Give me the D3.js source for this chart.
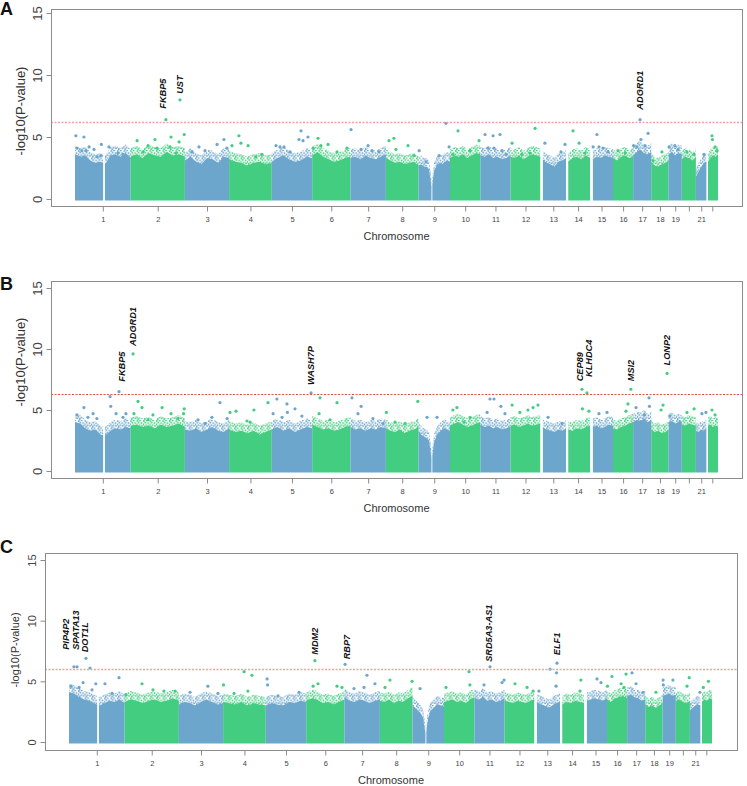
<!DOCTYPE html>
<html><head><meta charset="utf-8">
<script src="https://cdn.jsdelivr.net/npm/d3@7"></script>
<style>
body{margin:0;background:#fff}
svg{display:block}
text{font-family:"Liberation Sans",Arial,Helvetica,sans-serif}
</style>
</head><body>
<svg id="chart" width="747" height="786"></svg>
<script>
// ---------------- DATA ----------------
const chromosomes = d3.range(1, 23);
const chrLengthMb = [249,243,198,191,181,171,159,146,141,136,135,134,115,107,103,90,81,78,59,63,48,51];
const chrDataStartMb = [0,0,0,0,0,0,0,0,0,0,0,0,10,9,12,0,0,0,0,0,0,6];
const chrGapsMb = [[1,126,134],[9,58,62]];
const tickLabels = ["1","2","3","4","5","6","7","8","9","10","11","12","13","14","15","16","17","18","19","","21",""];
const yTicks = [0,5,10,15];

// upper edge of the dense band of SNPs, sampled evenly along each chromosome
const envelopeA = [
 [3.6,3.4,3.5,3.1,2.9,3.0,2.8,3.5,3.6,3.4,3.7,3.3],
 [3.4,3.6,3.3,3.7,3.5,3.4,3.8,3.5,3.6,3.4],
 [3.1,3.4,3.0,2.8,3.3,3.2,2.9,3.4,3.3],
 [3.2,3.0,2.9,2.7,2.9,3.0,2.8,2.9],
 [3.0,3.3,3.5,3.2,3.0,3.1,3.4,3.3],
 [3.5,3.8,3.4,3.2,3.0,3.1,3.3,3.4],
 [3.3,3.4,3.2,3.5,3.3,3.2,3.4,3.6],
 [3.3,3.1,2.9,3.0,2.8,2.9,3.0,2.7],
 [2.7,2.8,2.6,2.6,2.4,0.9,2.3,2.7,2.9,2.8,3.0,3.1,3.0],
 [3.3,3.5,3.4,3.6,3.3,3.5,3.7,3.6],
 [3.5,3.4,3.6,3.3,3.4,3.2,3.3,3.5],
 [3.4,3.3,3.5,3.2,3.4,3.6,3.5,3.4],
 [3.2,2.9,2.8,2.6,3.0,3.1,3.3],
 [3.0,3.3,3.4,3.2,3.5,3.3],
 [3.2,3.4,3.3,3.5,3.4,3.3],
 [3.3,3.1,3.4,3.5,3.3,3.4],
 [3.5,3.8,4.0,3.7,3.6,3.8],
 [3.0,2.7,2.6,2.8,2.9,3.1],
 [3.6,3.8,3.5,3.7,3.6],
 [3.2,3.4,3.3,3.1,3.4],
 [1.8,2.2,2.6,2.9,3.0],
 [3.0,3.3,3.5,3.4,3.6]
];
const envelopeB = [
 [4.0,3.9,3.5,3.3,3.4,3.0,2.9,3.3,3.5,3.4,3.6,3.5],
 [3.7,3.8,3.6,3.7,3.5,3.8,3.6,3.7,3.9,3.6],
 [3.4,3.3,3.5,3.2,3.4,3.6,3.3,3.2,3.5],
 [3.4,3.2,3.3,3.1,3.3,3.0,3.2,3.4],
 [3.4,3.6,3.3,3.5,3.2,3.4,3.6,3.5],
 [3.8,3.6,3.4,3.5,3.3,3.4,3.6,3.7],
 [3.6,3.4,3.5,3.3,3.5,3.4,3.6,3.5],
 [3.5,3.3,3.2,3.4,3.1,3.3,3.4,3.6],
 [3.3,3.0,2.8,2.7,2.5,1.0,2.4,2.9,3.2,3.4,3.5,3.4,3.3],
 [3.7,3.9,4.0,3.8,3.6,3.7,3.9,4.0],
 [3.8,3.6,3.7,3.5,3.6,3.4,3.5,3.6],
 [3.7,3.8,3.6,3.7,3.9,3.7,3.8,3.9],
 [3.6,3.4,3.3,3.2,3.4,3.3,3.5],
 [3.4,3.3,3.5,3.4,3.6,3.7],
 [3.6,3.7,3.5,3.6,3.8,3.7],
 [3.5,3.4,3.6,3.7,3.9,4.0],
 [4.0,4.2,4.1,4.3,4.0,4.2],
 [3.4,3.2,3.3,3.1,3.2,3.4],
 [4.0,4.1,3.9,4.0,3.9],
 [3.8,3.7,3.9,3.8,3.7],
 [3.3,3.2,3.4,3.3,3.5],
 [3.7,3.8,3.6,3.7,3.6]
];
const envelopeC = [
 [4.1,4.0,3.7,3.5,3.4,3.2,3.0,3.2,3.4,3.3,3.5,3.2],
 [3.3,3.5,3.4,3.2,3.4,3.5,3.3,3.4,3.6,3.4],
 [3.1,3.3,3.2,3.0,3.3,3.5,3.3,3.1,3.2],
 [3.3,3.2,3.1,3.3,3.0,3.2,3.1,3.0],
 [3.0,3.2,3.1,3.0,3.3,3.2,3.4,3.3],
 [3.4,3.6,3.5,3.2,3.3,3.1,3.3,3.5],
 [3.7,3.4,3.3,3.5,3.4,3.2,3.4,3.5],
 [3.4,3.3,3.5,3.2,3.4,3.3,3.6,3.8],
 [3.0,2.8,2.6,2.4,2.0,0.6,2.0,2.6,2.8,3.0,3.1,3.0,2.9],
 [3.3,3.4,3.5,3.3,3.4,3.2,3.5,3.7],
 [3.6,3.5,3.7,3.4,3.5,3.3,3.4,3.6],
 [3.4,3.3,3.2,3.4,3.3,3.2,3.4,3.5],
 [3.3,3.1,3.0,2.8,3.0,3.2,3.3],
 [3.1,3.3,3.2,3.4,3.3,3.2],
 [3.4,3.5,3.6,3.5,3.4,3.6],
 [3.5,3.3,3.6,3.7,3.8,3.6],
 [3.8,3.9,3.7,3.6,3.4,3.5],
 [3.1,2.9,3.0,2.8,3.0,3.2],
 [3.8,3.9,4.0,3.8,3.9],
 [3.4,3.5,3.3,3.2,3.4],
 [2.6,2.8,3.0,3.1,3.0],
 [3.3,3.5,3.4,3.6,3.5]
];

// individual SNPs above the band: [chromosome, position (Mb), -log10 P]
const pointsA = [
 [1,4,5.1],[1,40,5.0],[1,118,4.4],[1,152,4.2],[1,9,4.1],[1,31,3.9],[1,49,3.9],[1,63,4.2],[1,98,3.4],[1,116,3.5],[1,192,3.7],[1,215,3.6],[1,85,4.0],
 [2,29,4.7],[2,55,3.8],[2,78,4.3],[2,109,4.8],[2,118,4.1],[2,176,4.2],[2,181,5.0],[2,203,3.7],[2,217,4.6],[2,240,5.2],
 [3,32,3.8],[3,63,4.2],[3,90,3.9],[3,144,4.4],[3,175,4.8],[3,188,4.1],
 [4,13,4.3],[4,44,5.1],[4,53,4.5],[4,85,4.3],[4,120,3.4],[4,147,3.6],
 [5,19,4.3],[5,37,4.2],[5,55,4.2],[5,82,3.8],[5,122,4.8],[5,131,5.5],[5,140,4.7],[5,162,5.0],
 [6,4,4.1],[6,26,4.9],[6,39,4.3],[6,71,4.4],[6,111,3.8],[6,156,4.1],
 [7,3,5.6],[7,48,4.0],[7,79,4.3],[7,97,3.9],[7,128,3.8],
 [8,14,4.7],[8,36,4.9],[8,45,4.0],[8,99,4.3],[8,126,3.5],
 [9,3,3.9],[9,34,3.0],[9,92,3.5],[9,123,6.1],[9,137,4.2],
 [10,13,3.6],[10,36,5.5],[10,90,3.9],[10,130,4.7],
 [11,21,5.2],[11,34,4.1],[11,57,5.1],[11,61,4.1],[11,88,5.2],[11,97,3.9],[11,115,3.6],
 [12,7,4.5],[12,51,3.6],[12,87,3.7],[12,110,5.7],
 [13,20,4.5],[13,92,3.8],[13,110,4.4],
 [14,31,5.5],[14,58,4.5],[14,84,3.7],
 [15,14,4.2],[15,31,5.2],[15,40,4.2],[15,58,4.1],[15,81,3.8],
 [16,22,3.9],[16,54,3.7],
 [17,2,4.3],[17,17,4.2],[17,35,4.8],[17,53,4.3],[17,67,5.3],
 [18,8,3.1],[18,48,3.8],
 [19,2,4.2],[19,28,4.3],[19,42,4.0],
 [20,23,3.8],[20,54,3.6],
 [21,36,3.6],
 [22,24,5.1],[22,26,4.8],[22,38,4.2],[22,47,3.9]
];
const pointsB = [
 [1,9,4.6],[1,40,5.2],[1,58,4.4],[1,81,4.7],[1,98,4.3],[1,157,6.1],[1,160,5.3],[1,184,4.7],[1,215,4.4],[1,228,4.7],
 [2,15,4.7],[2,33,5.7],[2,51,5.2],[2,78,4.2],[2,100,4.6],[2,141,5.2],[2,181,4.7],[2,212,4.3],[2,240,5.1],[2,237,4.7],
 [3,59,4.2],[3,90,3.9],[3,121,4.4],[3,157,5.6],[3,189,4.3],
 [4,4,4.8],[4,31,4.9],[4,80,4.1],[4,94,4.0],[4,111,5.0],[4,174,5.6],
 [5,6,4.7],[5,23,5.9],[5,46,4.4],[5,68,5.5],[5,70,4.8],[5,104,5.1],[5,135,4.5],
 [6,35,6.0],[6,31,4.7],[6,80,4.2],[6,111,5.6],
 [7,7,6.0],[7,34,4.7],[7,48,5.3],[7,101,4.3],[7,146,3.9],
 [8,2,4.8],[8,41,4.0],[8,86,3.9],[8,143,5.7],
 [9,38,4.4],[9,83,4.4],
 [10,13,5.0],[10,31,5.2],[10,63,4.0],[10,90,4.4],
 [11,30,4.8],[11,43,5.9],[11,61,5.9],[11,92,5.3],[11,110,4.7],
 [12,7,5.4],[12,42,4.8],[12,78,5.0],[12,101,5.2],[12,123,5.4],
 [13,34,4.4],[13,97,3.9],
 [14,73,5.1],[14,102,4.9],
 [15,40,4.7],[15,76,4.8],
 [16,58,4.9],[16,67,5.5],
 [17,13,5.2],[17,71,6.0],[17,73,5.3],[17,50,4.6],
 [18,44,5.0],[18,53,5.4],
 [19,5,4.5],[19,51,4.0],
 [20,23,4.8],[20,55,5.1],
 [21,27,4.7],[21,45,4.8],
 [22,24,5.0],[22,38,4.6]
];
const pointsC = [
 [1,9,4.6],[1,45,4.5],[1,63,4.9],[1,94,6.1],[1,103,4.3],[1,120,4.8],[1,161,4.8],[1,193,4.0],[1,224,5.3],
 [2,6,3.9],[2,78,4.8],[2,127,4.3],[2,176,4.2],[2,226,4.2],
 [3,50,4.1],[3,130,4.6],[3,175,4.0],
 [4,2,4.7],[4,49,4.0],[4,94,5.8],[4,111,4.2],[4,129,5.5],
 [5,6,5.2],[5,8,4.7],[5,55,3.8],[5,149,4.1],
 [6,31,4.6],[6,53,4.8],[6,138,4.6],[6,160,4.5],
 [7,43,4.4],[7,88,4.5],[7,101,5.5],[7,137,4.8],
 [8,23,4.5],[8,45,5.1],[8,144,5.0],
 [9,34,4.4],
 [10,9,4.5],[10,112,5.8],[10,116,4.7],
 [11,43,4.7],[11,124,4.9],[11,133,5.1],
 [12,47,4.8],[12,101,4.5],[12,128,4.2],
 [13,20,4.2],[13,70,6.0],[13,97,4.6],[13,99,5.7],
 [14,89,4.2],[14,93,5.1],
 [15,58,5.2],[15,76,4.9],
 [16,2,4.6],[16,22,5.4],[16,63,4.8],[16,76,4.5],[16,85,5.6],
 [17,22,5.7],[17,40,4.8],[17,71,4.1],
 [18,48,4.1],
 [19,2,5.1],[19,3,4.7],[19,46,5.1],
 [20,50,4.6],[20,60,5.3],
 [21,45,4.1],
 [22,12,4.5],[22,35,5.0]
];

// annotated top SNPs: [gene, chromosome, position (Mb), -log10 P]
const genesA = [["FKBP5",2,158,6.4],["UST",2,221,8.0],["ADGRD1",17,31,6.4]];
const genesB = [["FKBP5",1,197,6.5],["ADGRD1",2,11,9.6],["WASH7P",5,176,6.4],["CEP89",14,71,6.7],["KLHDC4",14,93,6.4],["MSI2",16,80,6.7],["LONP2",18,71,8.0]];
const genesC = [["PIP4P2",1,22,6.2],["SPATA13",1,36,6.2],["DOT1L",1,76,6.9],["MDM2",6,39,6.7],["RBP7",7,3,6.4],["SRD5A3-AS1",11,70,6.2],["ELF1",13,101,6.5]];

const thresholdA = 6.2, thresholdB = 6.35, thresholdC = 6.05;

// ---------------- LAYOUT / STYLE ----------------
const colBlue = "#6CA6CD", colGreen = "#43CD80";
const colorOf = c => (c % 2 ? colBlue : colGreen);
const fringeHeight = 0.7;   // speckled zone drawn above the dense band (texture only)
// extra shift/lift (px) for crowded gene labels
const labelOffsets = {
 "A:FKBP5":[-3,8], "A:ADGRD1":[0,7], "A:UST":[0,3],
 "B:FKBP5":[3,7], "B:CEP89":[-2,5], "B:KLHDC4":[2,13],
 "C:PIP4P2":[-8,14], "C:SPATA13":[-1,14], "C:DOT1L":[-1,3], "C:MDM2":[0,3], "C:RBP7":[2,2], "C:SRD5A3-AS1":[-1,2]
};

const panels = [
 {id:"A", env:envelopeA, pts:pointsA, genes:genesA, thr:thresholdA, box:[51,742,9,206], xr:[75,718], yr:[199,13],
  letterY:15, ytitleX:20, ytitleY:111, tickFont:13, titleFont:13, thrColor:"#f4a0a0", thrWidth:1.6},
 {id:"B", env:envelopeB, pts:pointsB, genes:genesB, thr:thresholdB, box:[51,742,281,478], xr:[75,718], yr:[471,288],
  letterY:290, ytitleX:20, ytitleY:362, tickFont:13, titleFont:13, thrColor:"#f04848", thrWidth:1.1},
 {id:"C", env:envelopeC, pts:pointsC, genes:genesC, thr:thresholdC, box:[45,737,553,750], xr:[69,712], yr:[742,560],
  letterY:553, ytitleX:15, ytitleY:650, tickFont:11, titleFont:11, thrColor:"#f2a0a0", thrWidth:1.6}
];

// cumulative genome offsets
const cum = [];
let acc = 0;
chrLengthMb.forEach(l => { cum.push(acc); acc += l; });
const totalMb = acc;

// data blocks (chromosome segments excluding gaps)
const blocks = [];
chromosomes.forEach((c, i) => {
  let segs = [[chrDataStartMb[i], chrLengthMb[i]]];
  chrGapsMb.filter(g => g[0] === c).forEach(g => {
    segs = segs.flatMap(s => (g[1] > s[0] && g[2] < s[1]) ? [[s[0], g[1]], [g[2], s[1]]] : [s]);
  });
  segs.forEach(s => blocks.push({chr:c, s:s[0], e:s[1]}));
});

const svg = d3.select("#chart");
const defs = svg.append("defs");

// speckle textures
const speckle = [[0.8,1.0],[3.6,0.4],[2.2,2.6],[5.1,3.0],[0.4,4.4],[3.3,5.2],[5.6,5.8],[1.7,6.6]];
[["pBlue", colBlue], ["pGreen", colGreen]].forEach(([id, col]) => {
  const pat = defs.append("pattern").attr("id", id).attr("patternUnits", "userSpaceOnUse")
    .attr("width", 6.5).attr("height", 7.5);
  pat.selectAll("circle").data(speckle).join("circle")
    .attr("cx", d => d[0]).attr("cy", d => d[1]).attr("r", 0.95).attr("fill", col);
});
const patternOf = c => (c % 2 ? "url(#pBlue)" : "url(#pGreen)");

panels.forEach(p => {
  const [bx0, bx1, by0, by1] = p.box;
  const x = d3.scaleLinear().domain([0, totalMb]).range(p.xr);
  const y = d3.scaleLinear().domain([0, 15]).range(p.yr);
  const gx = (c, mb) => x(cum[c - 1] + mb);
  const g = svg.append("g");

  // clip path for chromosome blocks
  const clipId = "clip" + p.id;
  const cp = defs.append("clipPath").attr("id", clipId);
  cp.selectAll("rect").data(blocks).join("rect")
    .attr("x", b => gx(b.chr, b.s)).attr("width", b => gx(b.chr, b.e) - gx(b.chr, b.s))
    .attr("y", by0).attr("height", by1 - by0);

  // dense band + speckled fringe
  const bulk = g.append("g").attr("clip-path", `url(#${clipId})`);
  const area = d3.area().x(d => d.x).y0(y(0) + 1.5).y1(d => d.y);
  const fringe = d3.area().x(d => d.x).y0(d => d.y + 2).y1(d => d.yf);
  chromosomes.forEach((c, i) => {
    const vals = p.env[i];
    const s = chrDataStartMb[i], e = chrLengthMb[i];
    const pts = vals.map((v, k) => ({x: gx(c, s + (e - s) * k / (vals.length - 1)), y: y(v), yf: y(v + fringeHeight)}));
    bulk.append("path").attr("d", fringe(pts)).attr("fill", patternOf(c));
    bulk.append("path").attr("d", area(pts)).attr("fill", colorOf(c));
  });

  // individual points
  g.append("g").selectAll("circle").data(p.pts.concat(p.genes.map(d => [d[1], d[2], d[3]])))
    .join("circle")
    .attr("cx", d => gx(d[0], d[1])).attr("cy", d => y(d[2])).attr("r", 1.6)
    .attr("fill", d => colorOf(d[0]));

  // threshold line
  g.append("line").attr("x1", bx0).attr("x2", bx1).attr("y1", Math.round(y(p.thr)) + 0.5).attr("y2", Math.round(y(p.thr)) + 0.5)
    .attr("stroke", p.thrColor).attr("stroke-width", p.thrWidth).attr("stroke-dasharray", "2,1.5");

  // box
  g.append("rect").attr("x", bx0 + 0.5).attr("y", by0 + 0.5).attr("width", bx1 - bx0).attr("height", by1 - by0)
    .attr("fill", "none").attr("stroke", "#8c8c8c").attr("stroke-width", 1);

  // y axis
  const ya = g.append("g").attr("transform", `translate(${bx0 + 0.5},0)`)
    .call(d3.axisLeft(y).tickValues(yTicks).tickSize(5).tickFormat(d3.format("d")));
  ya.select(".domain").remove();
  ya.selectAll(".tick line").attr("stroke", "#8c8c8c");
  ya.selectAll(".tick text")
    .attr("x", 0).attr("text-anchor", "middle")
    .attr("transform", `translate(-${p.id === "C" ? 13.5 : 14.5},0) rotate(-90)`)
    .attr("dy", "0.35em")
    .attr("font-size", p.tickFont).attr("fill", "#444")
    .attr("font-family", "'Liberation Sans',Arial,sans-serif");

  // x axis
  const centers = chromosomes.map((c, i) => cum[i] + chrLengthMb[i] / 2);
  const xa = g.append("g").attr("transform", `translate(0,${by1 + 0.5})`)
    .call(d3.axisBottom(x).tickValues(centers).tickSize(5).tickFormat((d, i) => tickLabels[i]));
  xa.select(".domain").remove();
  xa.selectAll(".tick line").attr("stroke", "#8c8c8c");
  xa.selectAll(".tick text").attr("y", 10).attr("dy", "0.71em").attr("font-size", 7.5).attr("fill", "#444")
    .attr("font-family", "'Liberation Sans',Arial,sans-serif");

  // axis titles
  g.append("text").attr("x", (bx0 + bx1) / 2).attr("y", by1 + 30).attr("dy", "0.35em")
    .attr("text-anchor", "middle").attr("font-size", 11).attr("fill", "#333").text("Chromosome");
  g.append("text").attr("transform", `translate(${p.ytitleX},${p.ytitleY}) rotate(-90)`).attr("dy", "0.35em")
    .attr("text-anchor", "middle").attr("font-size", p.titleFont).attr("fill", "#333").text("-log10(P-value)");

  // panel letter
  g.append("text").attr("x", 0).attr("y", p.letterY).attr("font-size", 18).attr("font-weight", "bold")
    .attr("fill", "#111").text(p.id);

  // gene labels
  g.append("g").selectAll("text").data(p.genes).join("text")
    .attr("transform", d => {
      const off = labelOffsets[p.id + ":" + d[0]] || [0, 5];
      return `translate(${gx(d[1], d[2]) + off[0]},${y(d[3]) - 3 - off[1]}) rotate(-90)`;
    })
    .attr("dy", "0.35em").attr("text-anchor", "start")
    .attr("font-size", 9.2).attr("font-weight", "bold").attr("font-style", "italic").attr("fill", "#111")
    .text(d => d[0]);
});
</script>
</body></html>
